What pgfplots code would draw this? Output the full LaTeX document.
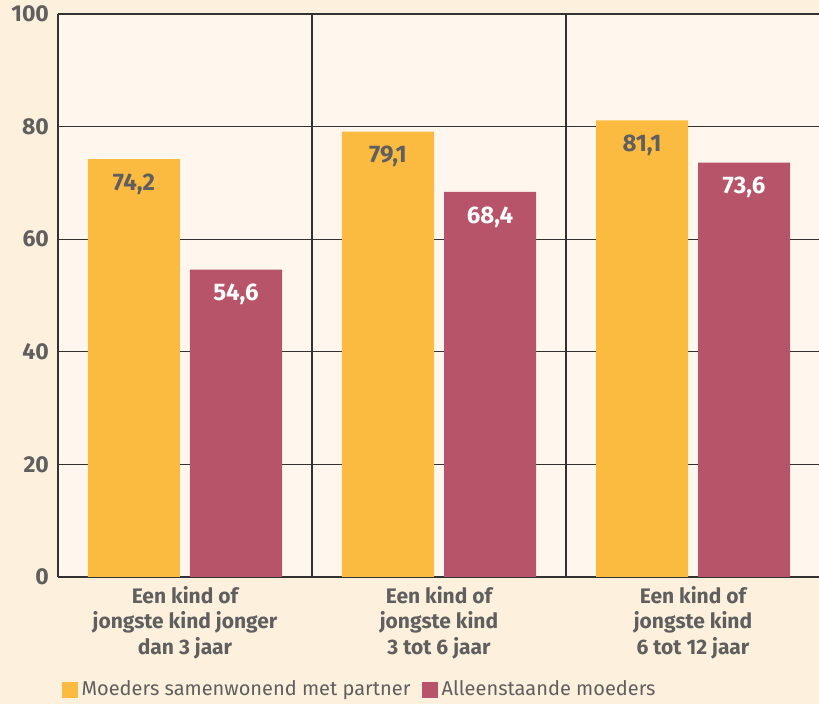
\documentclass[border=0pt]{standalone}
\usepackage{fontspec}
\setmainfont{Fira Sans}
\usepackage{pgfplots}
\pgfplotsset{compat=1.18}
\definecolor{outerbg}{RGB}{253,240,220}
\definecolor{plotbg}{RGB}{255,247,238}
\definecolor{geel}{RGB}{251,186,64}
\definecolor{rood}{RGB}{184,84,106}
\definecolor{tekst}{RGB}{95,95,95}
\definecolor{lijn}{RGB}{50,50,50}
\begin{document}
\begin{tikzpicture}
% page = 819 x 704 px at 0.5pt per px
\fill[outerbg] (-29pt,-63.5pt) rectangle (380.5pt,288.5pt);
\useasboundingbox (-29pt,-63.5pt) rectangle (380.5pt,288.5pt);
\begin{axis}[
  at={(0,0)}, anchor=south west,
  scale only axis,
  width=381pt, height=281.5pt,
  xmin=0, xmax=3, ymin=0, ymax=100,
  axis background/.style={fill=plotbg},
  axis x line*=bottom, axis y line*=left,
  axis line style={lijn, line width=0.7pt},
  xtick={0.5,1.5,2.5},
  xticklabels={{Een kind of\\jongste kind jonger\\dan 3 jaar},
               {Een kind of\\jongste kind\\3 tot 6 jaar},
               {Een kind of\\jongste kind\\6 tot 12 jaar}},
  xticklabel style={align=center, font=\fontsize{10.5}{12.8}\selectfont\bfseries, text=tekst, yshift=-1pt},
  extra x ticks={1,2},
  extra x tick labels={},
  extra x tick style={grid=major, major grid style={lijn, line width=0.6pt}},
  ytick={0,20,40,60,80,100},
  yticklabel style={font=\fontsize{11.5}{13}\selectfont\bfseries, text=tekst, xshift=-1pt,
    /pgf/number format/fixed zerofill=false, /pgf/number format/precision=0},
  ymajorgrids,
  major grid style={lijn, line width=0.6pt},
  major tick length=0pt,
  /pgf/number format/assume math mode=true,
  ybar, bar width=46pt,
  nodes near coords,
  nodes near coords style={anchor=center, yshift=-12.5pt, font=\fontsize{12}{14}\selectfont\bfseries,
    /pgf/number format/fixed, /pgf/number format/fixed zerofill,
    /pgf/number format/precision=1, /pgf/number format/use comma},
  legend style={at={(0,0)}, anchor=west, xshift=-1pt, yshift=-56.5pt,
    draw=none, fill=none, font=\fontsize{10}{12}\selectfont, text=tekst,
    legend columns=-1, /tikz/every even column/.append style={column sep=4pt}},
  legend image code/.code={\fill[#1] (0pt,-3.8pt) rectangle (7.6pt,3.8pt);},
]
\addplot[fill=geel, draw=none, bar shift=-25.5pt,
  nodes near coords style={text=tekst}]
  coordinates {(0.5,74.2) (1.5,79.1) (2.5,81.1)};
\addplot[fill=rood, draw=none, bar shift=25.5pt,
  nodes near coords style={text=white}]
  coordinates {(0.5,54.6) (1.5,68.4) (2.5,73.6)};
\legend{Moeders samenwonend met partner, Alleenstaande moeders}
\end{axis}
\end{tikzpicture}
\end{document}
